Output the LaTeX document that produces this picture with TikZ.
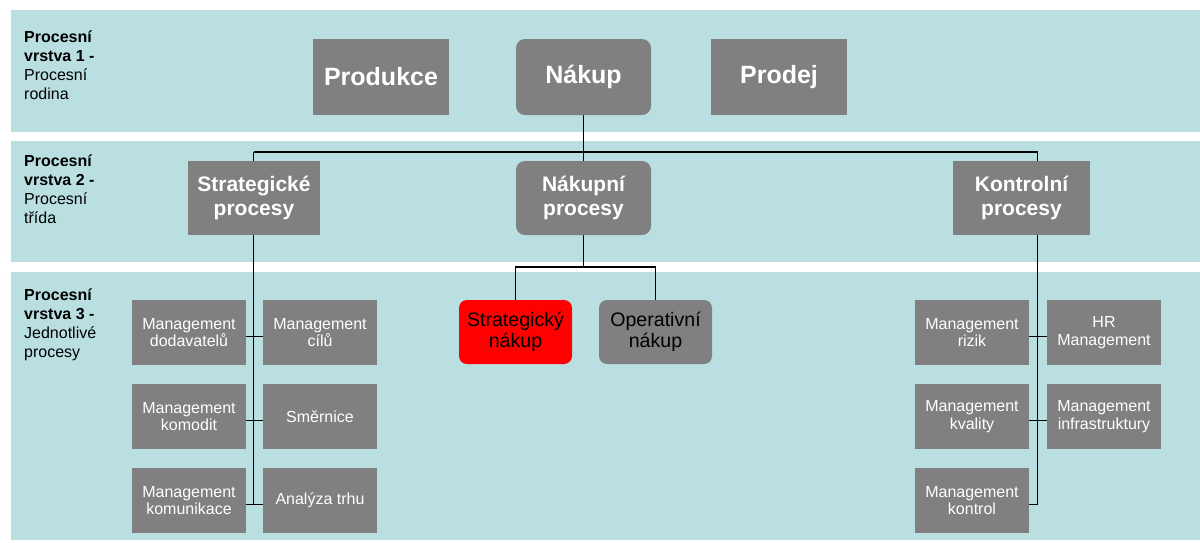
\documentclass[tikz,border=0pt]{standalone}
\usepackage{fontspec}
\setmainfont{Liberation Sans}
\usetikzlibrary{backgrounds}
\definecolor{band}{HTML}{B9DFE1}
\definecolor{boxgray}{HTML}{808080}
\definecolor{hot}{HTML}{FF0000}

\begin{document}
\begin{tikzpicture}[x=1pt,y=-1pt,
  box/.style={fill=boxgray, draw=none, inner sep=0pt, align=center, text=white},
  famBox/.style={box, minimum width=136pt, minimum height=76pt,
    font=\fontsize{25}{30}\selectfont\bfseries},
  clsBox/.style={box, minimum width=134pt, minimum height=74pt,
    font=\fontsize{21}{24}\selectfont\bfseries},
  procBox/.style={box, minimum width=114pt, minimum height=65pt,
    font=\fontsize{16}{17.5}\selectfont},
  midBox/.style={box, rounded corners=8pt, text=black, minimum width=113pt,
    minimum height=64pt, font=\fontsize{19.6}{20.5}\selectfont},
  rnd/.style={rounded corners=9pt},
  lvl/.style={anchor=north west, inner sep=0pt, align=left,
    font=\fontsize{16}{19}\selectfont},
  link/.style={draw=black, line width=1.6pt}
]
\useasboundingbox (0,0) rectangle (1200,542);

% layer labels
\node[lvl] (l1) at (24,31) {\textbf{Procesní}\\\textbf{vrstva 1 -}\\Procesní\\rodina};
\node[lvl] (l2) at (24,155) {\textbf{Procesní}\\\textbf{vrstva 2 -}\\Procesní\\třída};
\node[lvl] (l3) at (24,289) {\textbf{Procesní}\\\textbf{vrstva 3 -}\\Jednotlivé\\procesy};

% layer 1: process families
\node[famBox] (prod) at (381,77) {Produkce};
\node[famBox, rnd, minimum width=135pt] (nak) at (583.5,77) {Nákup};
\node[famBox] (prodej) at (779,77) {Prodej};

% layer 2: process classes
\node[clsBox, minimum width=132pt] (strat) at (254,198) {Strategické\\procesy};
\node[clsBox, rnd, minimum width=135pt] (nakp) at (583.5,198) {Nákupní\\procesy};
\node[clsBox, minimum width=137pt] (kontr) at (1021.5,198) {Kontrolní\\procesy};

% layer 3: strategic processes
\node[procBox] (mdod) at (189,332.5) {Management\\dodavatelů};
\node[procBox] (mcil) at (320,332.5) {Management\\cílů};
\node[procBox] (mkom) at (189,416.5) {Management\\komodit};
\node[procBox] (smer) at (320,416.5) {Směrnice};
\node[procBox] (mkomu) at (189,500.5) {Management\\komunikace};
\node[procBox] (anal) at (320,500.5) {Analýza trhu};

% layer 3: purchasing
\node[midBox, fill=hot] (sn) at (515.5,332) {Strategický\\nákup};
\node[midBox] (on) at (655.5,332) {Operativní\\nákup};

% layer 3: control processes
\node[procBox] (mriz) at (972,332.5) {Management\\rizik};
\node[procBox] (hr) at (1104,332.5) {HR\\Management};
\node[procBox] (mkval) at (972,416.5) {Management\\kvality};
\node[procBox] (minfra) at (1104,416.5) {Management\\infrastruktury};
\node[procBox] (mkontr) at (972,500.5) {Management\\kontrol};

% connector anchors
\coordinate (busL) at (253.5,152);
\coordinate (busR) at (1037.5,152);
\coordinate (mbus) at (583.5,267);
\coordinate (a1) at ([yshift=-4pt]mdod.east);
\coordinate (a2) at ([yshift=-4pt]mkom.east);
\coordinate (a3) at ([yshift=-4pt]mkomu.east);
\coordinate (b1) at ([yshift=-4pt]mriz.east);
\coordinate (b2) at ([yshift=-4pt]mkval.east);
\coordinate (b3) at ([yshift=-4pt]mkontr.east);

\begin{pgfonlayer}{background}
  \fill[white] (0,0) rectangle (1200,542);
  \fill[band] (11,10) rectangle (1200,132);
  \fill[band] (11,141) rectangle (1200,262);
  \fill[band] (11,272) rectangle (1200,540);

  % family -> classes
  \draw[link] (nak.south) -- (nakp.north);
  \draw[link] (busL) -- (busR);

  % strategic branch
  \draw[link] (busL) -- (busL |- a3);
  \draw[link] (a1) -- ([yshift=-4pt]mcil.west);
  \draw[link] (a2) -- ([yshift=-4pt]smer.west);
  \draw[link] (a3) -- ([yshift=-4pt]anal.west);

  % purchasing branch
  \draw[link] (nakp.south) -- (mbus);
  \draw[link] (sn.north) |- (mbus) -| (on.north);

  % control branch
  \draw[link] (busR) -- (busR |- b3);
  \draw[link] (b1) -- ([yshift=-4pt]hr.west);
  \draw[link] (b2) -- ([yshift=-4pt]minfra.west);
  \draw[link] (b3) -- (busR |- b3);
\end{pgfonlayer}
\end{tikzpicture}
\end{document}
